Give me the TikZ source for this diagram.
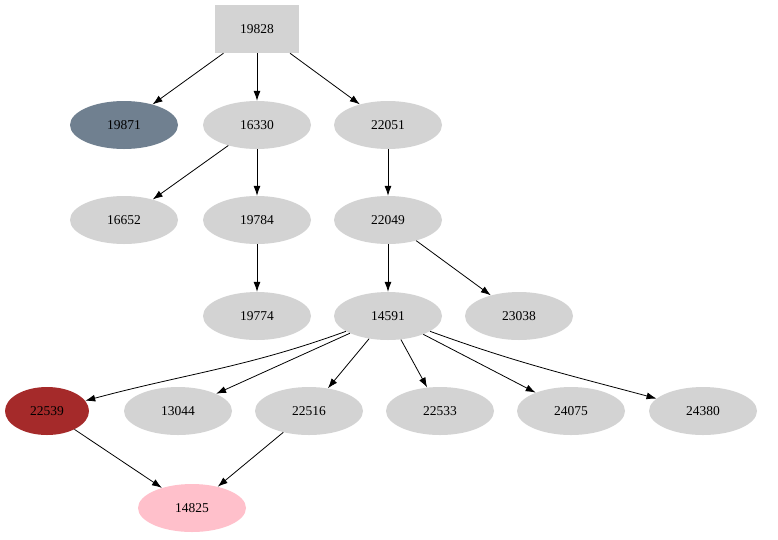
\documentclass[tikz,border=0pt]{standalone}
\usepackage{fontspec}
\setmainfont{Liberation Serif}
\usetikzlibrary{shapes.geometric,arrows.meta}
\definecolor{nodegray}{HTML}{D3D3D3}
\definecolor{slate}{HTML}{708090}
\definecolor{brownred}{HTML}{A52A2A}
\definecolor{pinkish}{HTML}{FFC0CB}
\tikzset{
  oval/.style={ellipse, fill=nodegray, minimum width=108pt, minimum height=48pt, inner sep=0pt, font=\fontsize{13.5}{16}\selectfont},
  edge/.style={-{Latex[length=10pt,width=7pt]}, line width=0.8pt}
}
\begin{document}
\begin{tikzpicture}[x=1pt,y=-1pt]
  \useasboundingbox (0,0) rectangle (778,539);

  \node [rectangle, fill=nodegray, minimum width=84pt, minimum height=48pt, font=\fontsize{13.5}{16}\selectfont] (n19828) at (257,29) {19828};

  \node [oval, fill=slate] (n19871) at (124,125) {19871};
  \node [oval] (n16330) at (257,125) {16330};
  \node [oval] (n22051) at (388,125) {22051};

  \node [oval] (n16652) at (124,220) {16652};
  \node [oval] (n19784) at (257,220) {19784};
  \node [oval] (n22049) at (388,220) {22049};

  \node [oval] (n19774) at (257,316) {19774};
  \node [oval] (n14591) at (388,316) {14591};
  \node [oval] (n23038) at (519,316) {23038};

  \node [oval, fill=brownred, minimum width=84pt] (n22539) at (47,411) {22539};
  \node [oval] (n13044) at (178,411) {13044};
  \node [oval] (n22516) at (309,411) {22516};
  \node [oval] (n22533) at (440,411) {22533};
  \node [oval] (n24075) at (571,411) {24075};
  \node [oval] (n24380) at (703,411) {24380};

  \node [oval, fill=pinkish] (n14825) at (192,508) {14825};

  \draw [edge] (n19828) -- (n19871);
  \draw [edge] (n19828) -- (n16330);
  \draw [edge] (n19828) -- (n22051);
  \draw [edge] (n16330) -- (n16652);
  \draw [edge] (n16330) -- (n19784);
  \draw [edge] (n22051) -- (n22049);
  \draw [edge] (n19784) -- (n19774);
  \draw [edge] (n22049) -- (n14591);
  \draw [edge] (n22049) -- (n23038);
  \draw [edge] (n14591) to[out=200,in=15] (n22539);
  \draw [edge] (n14591) -- (n13044);
  \draw [edge] (n14591) -- (n22516);
  \draw [edge] (n14591) -- (n22533);
  \draw [edge] (n14591) -- (n24075);
  \draw [edge] (n14591) to[out=-20,in=165] (n24380);
  \draw [edge] (n22539) -- (n14825);
  \draw [edge] (n22516) -- (n14825);
\end{tikzpicture}
\end{document}
